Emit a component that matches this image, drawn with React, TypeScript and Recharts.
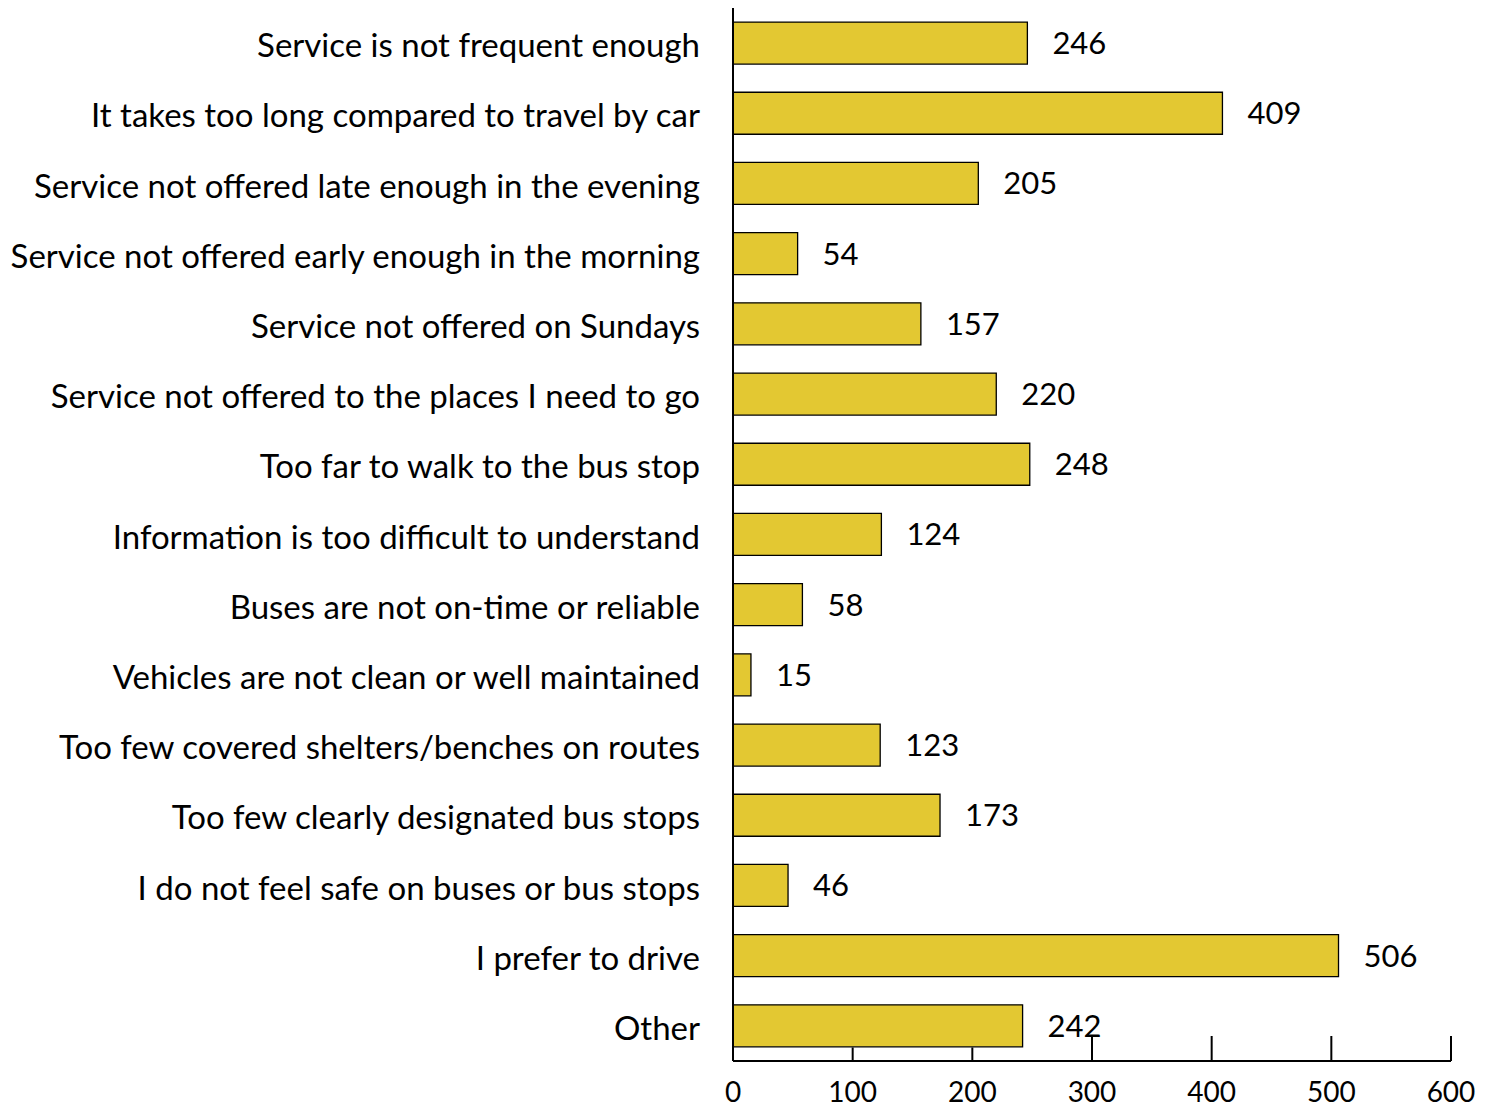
import { Bar, BarChart, LabelList, XAxis, YAxis } from 'recharts';

const CATEGORIES = [
  'Service is not frequent enough',
  'It takes too long compared to travel by car',
  'Service not offered late enough in the evening',
  'Service not offered early enough in the morning',
  'Service not offered on Sundays',
  'Service not offered to the places I need to go',
  'Too far to walk to the bus stop',
  'Information is too difficult to understand',
  'Buses are not on-time or reliable',
  'Vehicles are not clean or well maintained',
  'Too few covered shelters/benches on routes',
  'Too few clearly designated bus stops',
  'I do not feel safe on buses or bus stops',
  'I prefer to drive',
  'Other',
];
const COUNTS = [246, 409, 205, 54, 157, 220, 248, 124, 58, 15, 123, 173, 46, 506, 242];
const X_TICKS = [0, 100, 200, 300, 400, 500, 600];

const FONT = 'Lato, "Open Sans", sans-serif';
const BAR_FILL = '#e3c832';

const WIDTH = 1478;
const HEIGHT = 1099;
const X_AXIS_H = 46;
const GAP = 0.2; // barCategoryGap on each side of a bar
const TICK_LEN = 25;

const rows = CATEGORIES.map((name, i) => ({ name, count: COUNTS[i] }));

// the bottom bar hides the lower part of the inward ticks it covers
const bandH = (HEIGHT - X_AXIS_H) / CATEGORIES.length;
const gapBelowLast = bandH * GAP;
const lastCount = COUNTS[COUNTS.length - 1];

function CategoryTick(props: any) {
  const { x, y, payload } = props;
  return (
    <text x={x - 33} y={y + 1} textAnchor="end" dominantBaseline="central" fontSize={33} fontFamily={FONT} fill="#000">
      {payload.value}
    </text>
  );
}

function ValueTick(props: any) {
  const { x, y, payload } = props;
  const covered = payload.value > 0 && payload.value < lastCount;
  const len = covered ? gapBelowLast - 0.5 : TICK_LEN;
  return (
    <g>
      <line x1={x} y1={y} x2={x} y2={y - len} stroke="#000" strokeWidth={2} />
      <text x={x} y={y + 30} textAnchor="middle" dominantBaseline="central" fontSize={28} fontFamily={FONT} fill="#000">
        {payload.value}
      </text>
    </g>
  );
}

export default function App() {
  return (
    <BarChart
      width={WIDTH}
      height={HEIGHT}
      data={rows}
      layout="vertical"
      margin={{ top: 0, right: 35, bottom: 0, left: 0 }}
      barCategoryGap={`${GAP * 100}%`}
    >
      <XAxis
        type="number"
        domain={[0, 600]}
        ticks={X_TICKS}
        height={X_AXIS_H}
        tickSize={0}
        tickMargin={0}
        tickLine={false}
        axisLine={{ stroke: '#000', strokeWidth: 2 }}
        tick={<ValueTick />}
        interval={0}
      />
      <YAxis
        type="category"
        dataKey="name"
        width={725}
        tickSize={0}
        tickMargin={0}
        tickLine={false}
        axisLine={{ stroke: '#000', strokeWidth: 2 }}
        tick={<CategoryTick />}
        interval={0}
      />
      <Bar dataKey="count" fill={BAR_FILL} stroke="#000" strokeWidth={1.3} isAnimationActive={false}>
        <LabelList dataKey="count" position="right" offset={25} fontSize={31} fontFamily={FONT} fill="#000" />
      </Bar>
    </BarChart>
  );
}
